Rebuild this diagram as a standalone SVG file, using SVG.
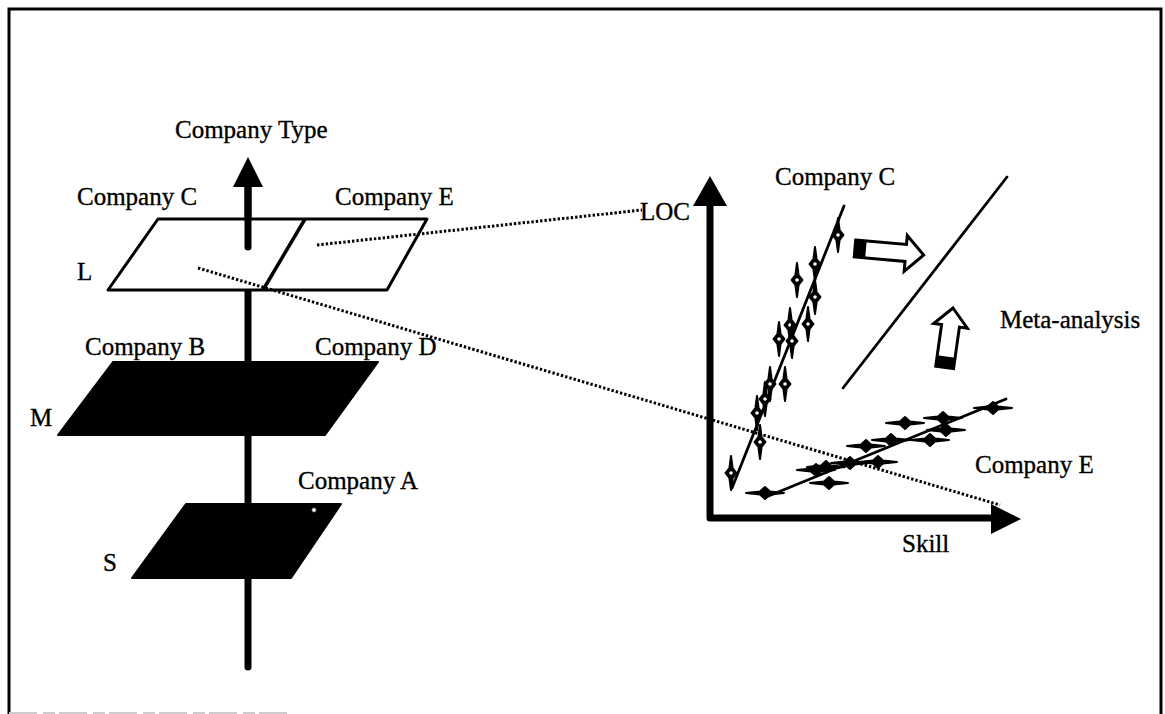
<svg xmlns="http://www.w3.org/2000/svg" xmlns:xlink="http://www.w3.org/1999/xlink" width="1165" height="714" viewBox="0 0 1165 714">
<style>
  text { font-family: "Liberation Serif", "Times New Roman", serif; font-size: 25px; fill: #000; stroke: #000; stroke-width: 0.35; }
  .frame { fill: none; stroke: #000; stroke-width: 3; }
  .shaft { stroke: #000; stroke-width: 7; stroke-linecap: round; fill: none; }
  .plane-white { fill: #fff; stroke: #000; stroke-width: 3; stroke-linejoin: round; }
  .plane-black { fill: #000; stroke: #000; stroke-width: 2; stroke-linejoin: round; }
  .dotted { fill: none; stroke: #000; stroke-width: 3; stroke-dasharray: 2.4 2; }
  .thin { fill: none; stroke: #000; stroke-width: 2.8; stroke-linecap: round; }
  .block { fill: #fff; stroke: #000; stroke-width: 3; stroke-linejoin: miter; }
</style>
<defs>
  <g id="vp">
    <path d="M0,-17 L1.6,-5 L5.5,0 L1.6,5 L0,17 L-1.6,5 L-5.5,0 L-1.6,-5Z" fill="#000" stroke="#000" stroke-width="2" stroke-linejoin="round"/>
    <circle r="1.8" fill="#fff"/>
  </g>
  <g id="hp">
    <path d="M-19,0 L-5,-1.6 L0,-6 L5,-1.6 L19,0 L5,1.6 L0,6 L-5,1.6Z" fill="#000" stroke="#000" stroke-width="2" stroke-linejoin="round"/>
  </g>
</defs>
<rect x="0" y="0" width="1165" height="714" fill="#fff"/>
<g id="frame">
  <path class="frame" d="M9,714 V9 H1161 V714"/>
  <line x1="9" y1="713" x2="290" y2="713" stroke="#ccc" stroke-width="2" stroke-dasharray="28 6 12 4"/>
</g>

<g id="company-type-axis">
  <line class="shaft" x1="248" y1="185" x2="248" y2="667"/>
  <polygon points="248,157 233,187 263,187" fill="#000"/>
  <text x="175" y="138">Company Type</text>
</g>

<g id="plane-L">
  <polygon class="plane-white" points="158,219 427,219 387,290 108,290"/>
  <line x1="305" y1="219" x2="263" y2="290" stroke="#000" stroke-width="3.5"/>
  <line class="shaft" x1="248" y1="186" x2="248" y2="247"/>
  <text x="77" y="205">Company C</text>
  <text x="335" y="205">Company E</text>
  <text x="77" y="280">L</text>
</g>

<g id="plane-M">
  <polygon class="plane-black" points="113,362 378,362 325,435 58,435"/>
  <text x="85" y="355">Company B</text>
  <text x="315" y="355">Company D</text>
  <text x="30" y="426">M</text>
</g>

<g id="plane-S">
  <polygon class="plane-black" points="186,504 341,504 291,578 132,578"/>
  <circle cx="314" cy="510" r="2" fill="#fff" stroke="#888" stroke-width="0.8"/>
  <text x="298" y="489">Company A</text>
  <text x="103" y="571">S</text>
</g>

<g id="chart">
  <path d="M710,205 V518 H993" fill="none" stroke="#000" stroke-width="7" stroke-linejoin="round"/>
  <polygon points="710,176 693,206 727,206" fill="#000"/>
  <polygon points="1021,519 991,504 991,534" fill="#000"/>
  <text x="640" y="220">LOC</text>
  <text x="902" y="552">Skill</text>
</g>

<g id="company-c-data">
  <line class="thin" x1="732" y1="488" x2="844" y2="206"/>
  <use xlink:href="#vp" x="838" y="235"/>
  <use xlink:href="#vp" x="815" y="264"/>
  <use xlink:href="#vp" x="797" y="280"/>
  <use xlink:href="#vp" x="815" y="297"/>
  <use xlink:href="#vp" x="790" y="325"/>
  <use xlink:href="#vp" x="808" y="324"/>
  <use xlink:href="#vp" x="779" y="339"/>
  <use xlink:href="#vp" x="792" y="341"/>
  <use xlink:href="#vp" x="770" y="384"/>
  <use xlink:href="#vp" x="785" y="384"/>
  <use xlink:href="#vp" x="765" y="399"/>
  <use xlink:href="#vp" x="757" y="413"/>
  <use xlink:href="#vp" x="760" y="442"/>
  <use xlink:href="#vp" x="731" y="473"/>
  <text x="775" y="185">Company C</text>
</g>

<g id="company-e-data">
  <line class="thin" x1="766" y1="497" x2="1006" y2="399"/>
  <use xlink:href="#hp" x="993" y="408"/>
  <use xlink:href="#hp" x="943" y="418"/>
  <use xlink:href="#hp" x="905" y="423"/>
  <use xlink:href="#hp" x="946" y="430"/>
  <use xlink:href="#hp" x="930" y="440"/>
  <use xlink:href="#hp" x="891" y="440"/>
  <use xlink:href="#hp" x="866" y="446"/>
  <use xlink:href="#hp" x="878" y="462"/>
  <use xlink:href="#hp" x="850" y="463"/>
  <use xlink:href="#hp" x="826" y="467"/>
  <use xlink:href="#hp" x="816" y="470"/>
  <use xlink:href="#hp" x="829" y="483"/>
  <use xlink:href="#hp" x="765" y="493"/>
  <text x="975" y="473">Company E</text>
</g>

<g id="meta-analysis">
  <line class="thin" x1="843" y1="388" x2="1007" y2="177"/>
  <g transform="translate(855,248) rotate(5)">
    <polygon class="block" points="0,-8 51,-8 51,-17 69,1 51,19 51,9 0,9"/>
    <rect x="0" y="-8" width="11" height="17" fill="#000"/>
  </g>
  <g transform="translate(953,308) rotate(8)">
    <polygon class="block" points="0,0 17,18 9,18 9,60 -9,60 -9,18 -17,18"/>
    <rect x="-9" y="49" width="18" height="11" fill="#000"/>
  </g>
  <text x="1000" y="328">Meta-analysis</text>
</g>

<g id="connectors">
  <line class="dotted" x1="317" y1="245" x2="642" y2="210"/>
  <line class="dotted" x1="198" y1="268" x2="1000" y2="505"/>
</g>
</svg>
